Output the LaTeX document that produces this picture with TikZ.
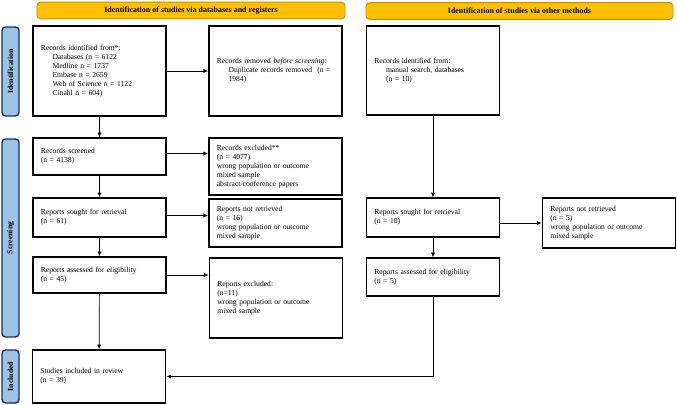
\documentclass[tikz,border=0pt]{standalone}
\usepackage{fontspec}
\setmainfont{Liberation Serif}
\usepackage{tikz}
\usetikzlibrary{positioning, arrows.meta, calc}
\definecolor{bannerfill}{HTML}{FFC000}
\definecolor{bannerline}{HTML}{BF9000}
\definecolor{sidefill}{HTML}{9DC3E6}
\definecolor{sideline}{HTML}{1F2F4F}
\newcommand{\ind}{\hspace*{10pt}}

\begin{document}
\begin{tikzpicture}[
    x=0.03cm, y=-0.03cm,
    box/.style={draw, rectangle, line width=1.2pt, minimum width=4cm, inner xsep=0.24cm, text width=3.52cm, align=left, font=\fontsize{6.5}{7.6}\selectfont},
    banner/.style={draw=bannerline, fill=bannerfill, line width=0.8pt, rounded corners=3pt, minimum height=0.5cm, font=\fontsize{6.8}{8}\selectfont\bfseries},
    side/.style={draw=sideline, fill=sidefill, line width=1.2pt, rounded corners=3pt, rotate=90, minimum height=0.51cm, inner sep=0pt, font=\fontsize{6.6}{7.6}\selectfont\bfseries},
    arr/.style={-{Latex[length=4pt, width=3.5pt]}, line width=0.6pt}
]
    \useasboundingbox (0,0) rectangle (677,405);

    % Banners
    \node[banner, minimum width=9.24cm] (bdb) at (191,10.5) {Identification of studies via databases and registers};
    \node[banner, minimum width=9.21cm] (bother) at (519.5,11) {Identification of studies via other methods};

    % Side bars
    \node[side, minimum width=2.67cm] (sident) at (10.5,71.5) {Identification};
    \node[side, minimum width=5.94cm] (sscreen) at (10.5,238) {Screening};
    \node[side, minimum width=1.59cm] (sincl) at (10.5,376.5) {Included};

    % Databases and registers
    \node[box, minimum height=2.7cm] (ident) at (99.5,71) {Records identified from*:\\
        \ind Databases (n = 6122\\
        \ind Medline n = 1737\\
        \ind Embase n = 2659\\
        \ind Web of Science n = 1122\\
        \ind Cinahl n = 604)};
    \node[box, minimum height=2.7cm] (removed) at (275.5,71) {Records removed \textit{before screening}:\\
        \ind Duplicate records removed\ \ (n =\\
        \ind 1984)};
    \node[box, minimum height=1.11cm] (screened) at (99.5,156.5) {Records screened\\(n = 4138)};
    \node[box, minimum height=1.71cm] (excluded) at (275.5,166.5) {Records excluded**\\(n = 4077)\\wrong population or outcome\\mixed sample\\abstract/conference papers};
    \node[box, minimum height=1.17cm] (sought) at (99.5,217.5) {Reports sought for retrieval\\(n = 61)};
    \node[box, minimum height=1.44cm] (notret) at (275.5,223) {Reports not retrieved\\(n = 16)\\wrong population or outcome\\mixed sample};
    \node[box, minimum height=1.08cm] (assessed) at (99.5,275) {Reports assessed for eligibility\\(n = 45)};
    \node[box, minimum height=2.4cm] (repexcl) at (276,298) {Reports excluded:\\(n=11)\\wrong population or outcome\\mixed sample};
    \node[box, minimum height=1.59cm] (included) at (99,376.5) {Studies included in review\\(n = 39)};

    % Other methods
    \node[box, minimum height=2.67cm] (other) at (433,70.5) {Records identified from:\\
        \ind manual search, databases\\
        \ind (n = 10)};
    \node[box, minimum height=1.17cm] (sought2) at (433,217.5) {Reports sought for retrieval\\(n = 10)};
    \node[box, minimum height=1.5cm] (notret2) at (609,223) {Reports not retrieved\\(n = 5)\\wrong population or outcome\\mixed sample};
    \node[box, minimum height=1.14cm] (assessed2) at (433,277) {Reports assessed for eligibility\\(n = 5)};

    % Arrows
    \draw[arr] (ident.east) -- (removed.west);
    \draw[arr] (ident) -- (screened);
    \draw[arr] ($(screened.east)+(0,-3)$) -- ($(screened.east -| excluded.west)+(0,-3)$);
    \draw[arr] (screened) -- (sought);
    \draw[arr] ($(sought.east)+(0,-2)$) -- ($(sought.east -| notret.west)+(0,-2)$);
    \draw[arr] (sought) -- (assessed);
    \draw[arr] (assessed.east) -- (assessed.east -| repexcl.west);
    \draw[arr] (assessed) -- (included);
    \draw[arr] (other) -- (sought2);
    \draw[arr] (sought2.east |- notret2.west) -- (notret2.west);
    \draw[arr] (sought2) -- (assessed2);
    \draw[arr] (assessed2.south) |- (included.east);
\end{tikzpicture}
\end{document}
